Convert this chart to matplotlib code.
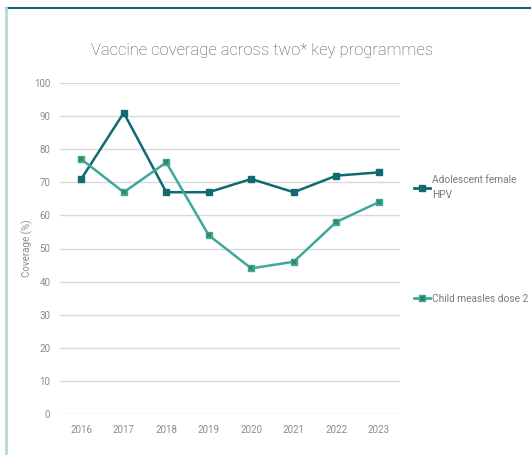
import matplotlib
matplotlib.use("Agg")
import matplotlib.pyplot as plt
from matplotlib.lines import Line2D

plt.rcParams['font.family'] = ['Roboto', 'DejaVu Sans']

# data
years = ['2016', '2017', '2018', '2019', '2020', '2021', '2022', '2023']
hpv = [71, 91, 67, 67, 71, 67, 72, 73]
measles = [77, 67, 76, 54, 44, 46, 58, 64]
hpv_label = 'Adolescent female\nHPV'
measles_label = 'Child measles dose 2'
title = 'Vaccine coverage across two* key programmes'

c_hpv = '#0f6a72'
c_mea = '#3fa89c'
c_x = '#2f8a4c'
grey = '#8c8c8c'

fig = plt.figure(figsize=(5.31, 4.55), dpi=100)
ax = fig.add_axes([60/531, 41/455, 340/531, 331/455])

xs = range(len(years))
ax.plot(xs, hpv, color=c_hpv, lw=1.8, marker='s', ms=4.5, mfc=c_hpv, mec=c_hpv, zorder=3)
ax.plot(xs, measles, color=c_mea, lw=1.8, zorder=3)
ax.plot(xs, measles, ls='none', marker='s', ms=4.5, mfc=c_mea, mec=c_mea, zorder=4)
ax.plot(xs, measles, ls='none', marker='x', ms=3.5, mew=1.2, color=c_x, zorder=5)

ax.set_xlim(-0.5, len(years) - 0.5)
ax.set_ylim(0, 100)
ax.set_yticks(range(0, 101, 10))
ax.set_xticks(list(xs))
ax.set_xticklabels(years)
ax.grid(axis='y', color='#d9d9d9', lw=1)
ax.set_axisbelow(True)
for s in ax.spines.values():
    s.set_visible(False)
ax.tick_params(axis='y', length=0, labelsize=7, labelcolor=grey, pad=7)
ax.tick_params(axis='x', length=0, labelsize=7, labelcolor=grey, pad=8)
ax.set_ylabel('Coverage (%)', fontsize=7, color=grey)
ax.yaxis.set_label_coords(-27/340, 0.5)

fig.text(262/531, 1 - 50/455, title, ha='center', va='center', fontsize=12,
         color='#505050', fontweight='light')

# legends
h1 = Line2D([], [], color=c_hpv, lw=2, marker='s', ms=4.5)
h2 = Line2D([], [], color=c_mea, lw=2, marker='s', ms=4.5, mfc=c_x, mec=c_mea)
kw = dict(frameon=False, fontsize=7.3, handlelength=1.6, handletextpad=0.2,
          labelcolor='#7a7a7a', borderaxespad=0, borderpad=0)
leg1 = fig.legend([h1], [hpv_label], loc='upper left',
                  bbox_to_anchor=(414/531, 1 - 175/455), **kw)
for t in leg1.get_texts():
    t.set_linespacing(1.6)
leg2 = fig.legend([h2], [measles_label], loc='upper left',
                  bbox_to_anchor=(414/531, 1 - 294/455), **kw)

# frame
fig.add_artist(Line2D([6/531, 1], [1 - 8/455, 1 - 8/455], color='#0f6a72', lw=1.5,
                      transform=fig.transFigure))
fig.add_artist(Line2D([6/531, 6/531], [0, 1 - 8/455], color='#b5d9d9', lw=2,
                      transform=fig.transFigure))

fig.savefig('out.png', dpi=100)
